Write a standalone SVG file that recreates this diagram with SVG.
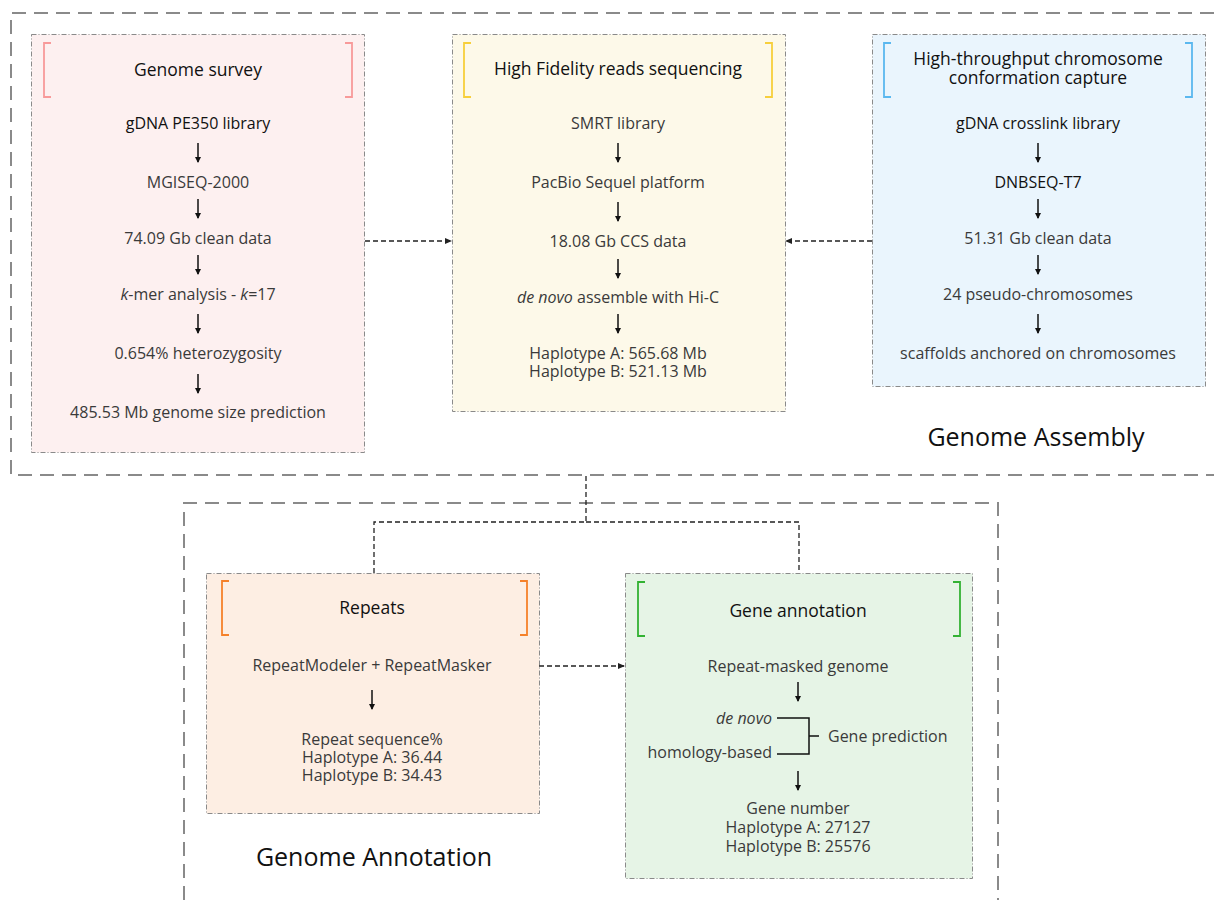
<svg xmlns="http://www.w3.org/2000/svg" width="1214" height="900" viewBox="0 0 1214 900">
<defs>
<style>
text{font-family:"Open Sans","Noto Sans",sans-serif;text-anchor:middle;dominant-baseline:central}
.t{font-size:17.5px;fill:#111}
.b{font-size:16px;fill:#3a3a3a}
.k{fill:#111}
.big{font-size:25px;fill:#111}
.box{stroke:#8a8a8a;stroke-width:1;stroke-dasharray:5 2 1 2}
.grp{fill:none;stroke:#8a8a8a;stroke-width:2;stroke-dasharray:14 8}
.ar{stroke:#111;stroke-width:1.5;fill:none;marker-end:url(#ah)}
.dc{stroke:#222;stroke-width:1.3;fill:none;stroke-dasharray:5 3}
.dca{stroke:#222;stroke-width:1.3;fill:none;stroke-dasharray:5 3;marker-end:url(#ah2)}
.br{fill:none;stroke-width:1.8}
</style>
<marker id="ah" markerWidth="6" markerHeight="6" refX="5" refY="3" orient="auto" markerUnits="userSpaceOnUse"><path d="M0,0 L6,3 L0,6 Z" fill="#111"/></marker>
<marker id="ah2" markerWidth="7" markerHeight="6" refX="6" refY="3" orient="auto" markerUnits="userSpaceOnUse"><path d="M0,0 L7,3 L0,6 Z" fill="#222"/></marker>
</defs>
<rect width="1214" height="900" fill="#fff"/>
<g id="group-assembly">
<path class="grp" d="M1214,13 H11 V475 H1214"/>
<text class="big" x="1036" y="436">Genome Assembly</text>
</g>
<g id="group-annotation">
<path class="grp" d="M184,900 V503 H998 V900"/>
<text class="big" x="374" y="856">Genome Annotation</text>
</g>
<g id="survey">
<rect class="box" x="31.5" y="34.5" width="333" height="418" fill="#fdf0f0"/>
<path class="br" stroke="#f89a9a" d="M51,43 H44 V97 H51 M345,43 H352 V97 H345"/>
<text class="t" x="198" y="69">Genome survey</text>
<text class="b k" x="198" y="123">gDNA PE350 library</text>
<path class="ar" d="M198,143 V162"/>
<text class="b" x="198" y="182">MGISEQ-2000</text>
<path class="ar" d="M198,199 V218"/>
<text class="b" x="198" y="238">74.09 Gb clean data</text>
<path class="ar" d="M198,255 V274"/>
<text class="b" x="198" y="294"><tspan font-style="italic">k</tspan>-mer analysis - <tspan font-style="italic">k</tspan>=17</text>
<path class="ar" d="M198,314 V333"/>
<text class="b" x="198" y="353">0.654% heterozygosity</text>
<path class="ar" d="M198,374 V393"/>
<text class="b" x="198" y="412">485.53 Mb genome size prediction</text>
</g>
<g id="hifi">
<rect class="box" x="452.5" y="34.5" width="333" height="377" fill="#fdf9e9"/>
<path class="br" stroke="#f7cf3c" d="M471,43 H464 V97 H471 M765,43 H772 V97 H765"/>
<text class="t" x="618" y="68">High Fidelity reads sequencing</text>
<text class="b" x="618" y="123">SMRT library</text>
<path class="ar" d="M618,143 V162"/>
<text class="b" x="618" y="182">PacBio Sequel platform</text>
<path class="ar" d="M618,202 V221"/>
<text class="b" x="618" y="241">18.08 Gb CCS data</text>
<path class="ar" d="M618,259 V278"/>
<text class="b" x="618" y="297"><tspan font-style="italic">de novo</tspan> assemble with Hi-C</text>
<path class="ar" d="M618,314 V333"/>
<text class="b" x="618" y="353">Haplotype A: 565.68 Mb<tspan x="618" dy="18">Haplotype B: 521.13 Mb</tspan></text>
</g>
<g id="hic">
<rect class="box" x="872.5" y="34.5" width="333" height="352" fill="#eaf5fd"/>
<path class="br" stroke="#5bb8ef" d="M891,43 H884 V97 H891 M1185,43 H1192 V97 H1185"/>
<text class="t" x="1038" y="58">High-throughput chromosome<tspan x="1038" dy="19">conformation capture</tspan></text>
<text class="b k" x="1038" y="123">gDNA crosslink library</text>
<path class="ar" d="M1038,143 V162"/>
<text class="b k" x="1038" y="182">DNBSEQ-T7</text>
<path class="ar" d="M1038,199 V218"/>
<text class="b" x="1038" y="238">51.31 Gb clean data</text>
<path class="ar" d="M1038,255 V274"/>
<text class="b" x="1038" y="294">24 pseudo-chromosomes</text>
<path class="ar" d="M1038,314 V333"/>
<text class="b" x="1038" y="353">scaffolds anchored on chromosomes</text>
</g>
<g id="repeats">
<rect class="box" x="206.5" y="573.5" width="333" height="240" fill="#fdeee3"/>
<path class="br" stroke="#f5812a" d="M229,581 H222 V635 H229 M520,581 H527 V635 H520"/>
<text class="t" x="372" y="607">Repeats</text>
<text class="b" x="372" y="665">RepeatModeler + RepeatMasker</text>
<path class="ar" d="M372,690 V709"/>
<text class="b" x="372" y="739">Repeat sequence%<tspan x="372" dy="18">Haplotype A: 36.44</tspan><tspan x="372" dy="18">Haplotype B: 34.43</tspan></text>
</g>
<g id="gene">
<rect class="box" x="625.5" y="573.5" width="347" height="305" fill="#e6f4e6"/>
<path class="br" stroke="#33b233" d="M645,582 H638 V636 H645 M953,582 H960 V636 H953"/>
<text class="t" x="798" y="610">Gene annotation</text>
<text class="b" x="798" y="666">Repeat-masked genome</text>
<path class="ar" d="M798,682 V701"/>
<text class="b" x="772" y="718" style="text-anchor:end;font-style:italic">de novo</text>
<text class="b" x="772" y="752" style="text-anchor:end">homology-based</text>
<path d="M777,718 H809 V754 H777 M809,736 H819" fill="none" stroke="#111" stroke-width="1.5"/>
<text class="b" x="828" y="736" style="text-anchor:start">Gene prediction</text>
<path class="ar" d="M798,771 V790"/>
<text class="b" x="798" y="808">Gene number<tspan x="798" dy="19">Haplotype A: 27127</tspan><tspan x="798" dy="19">Haplotype B: 25576</tspan></text>
</g>
<g id="connectors">
<path class="dca" d="M365,241 H451"/>
<path class="dca" d="M872,241 H786"/>
<path class="dc" d="M586,476 V522 H374 V573 M586,522 H799 V573"/>
<path class="dca" d="M539,666 H624"/>
</g>
</svg>
